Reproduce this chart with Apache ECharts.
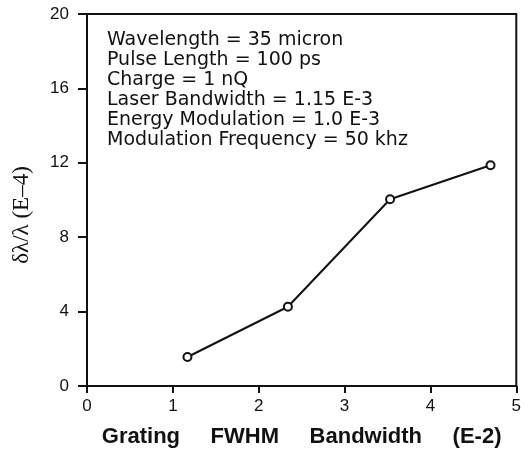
<!DOCTYPE html>
<html>
<head>
<meta charset="utf-8">
<script src="https://cdn.jsdelivr.net/npm/echarts@6/dist/echarts.min.js"></script>
<style>html,body{margin:0;padding:0;background:#fff;}#c{width:524px;height:456px;}</style>
</head>
<body>
<div id="c"></div>
<script>
const bandwidth = [1.17, 2.34, 3.53, 4.70];
const spread = [1.56, 4.26, 10.04, 11.87];
const xTicks = [0, 1, 2, 3, 4, 5];
const yTicks = [0, 4, 8, 12, 16, 20];
const notes = [
  'Wavelength = 35 micron',
  'Pulse Length = 100 ps',
  'Charge = 1 nQ',
  'Laser Bandwidth = 1.15 E-3',
  'Energy Modulation = 1.0 E-3',
  'Modulation Frequency = 50 khz'
];
const xTitle = 'Grating     FWHM     Bandwidth     (E-2)';
const yTitle = 'δλ/λ (E–4)';

const chart = echarts.init(document.getElementById('c'), null, {renderer: 'canvas'});
const ink = '#111';
chart.setOption({
  animation: false,
  backgroundColor: '#fff',
  grid: {left: 87, right: 5, top: 14, bottom: 70, show: true, borderColor: ink, borderWidth: 2, backgroundColor: 'transparent'},
  xAxis: {
    type: 'value', min: xTicks[0], max: xTicks[xTicks.length - 1], interval: 1,
    axisLine: {lineStyle: {color: ink, width: 2}},
    axisTick: {show: true, length: 7, lineStyle: {color: ink, width: 2}},
    splitLine: {show: false},
    axisLabel: {color: ink, fontFamily: 'Liberation Sans', fontSize: 17, margin: 12},
    name: xTitle, nameLocation: 'middle', nameGap: 40,
    nameTextStyle: {color: ink, fontFamily: 'Liberation Sans', fontWeight: 'bold', fontSize: 22}
  },
  yAxis: {
    type: 'value', min: yTicks[0], max: yTicks[yTicks.length - 1], interval: 4,
    axisLine: {lineStyle: {color: ink, width: 2}},
    axisTick: {show: true, length: 9, lineStyle: {color: ink, width: 2}},
    splitLine: {show: false},
    axisLabel: {color: ink, fontFamily: 'Liberation Sans', fontSize: 17, margin: 18},
    name: yTitle, nameLocation: 'middle', nameGap: 54, nameRotate: 90,
    nameTextStyle: {color: ink, fontFamily: 'Liberation Serif', fontSize: 23, padding: [0, 30, 0, 0]}
  },
  graphic: [{
    type: 'text', left: 107, top: 30,
    style: {text: notes.join('\n'), fill: ink, font: '19px "DejaVu Sans"', lineHeight: 20}
  }],
  series: [{
    type: 'line',
    data: bandwidth.map((x, i) => [x, spread[i]]),
    symbol: 'circle', symbolSize: 8,
    lineStyle: {color: ink, width: 2},
    itemStyle: {color: '#fff', borderColor: ink, borderWidth: 2}
  }]
});
</script>
</body>
</html>
